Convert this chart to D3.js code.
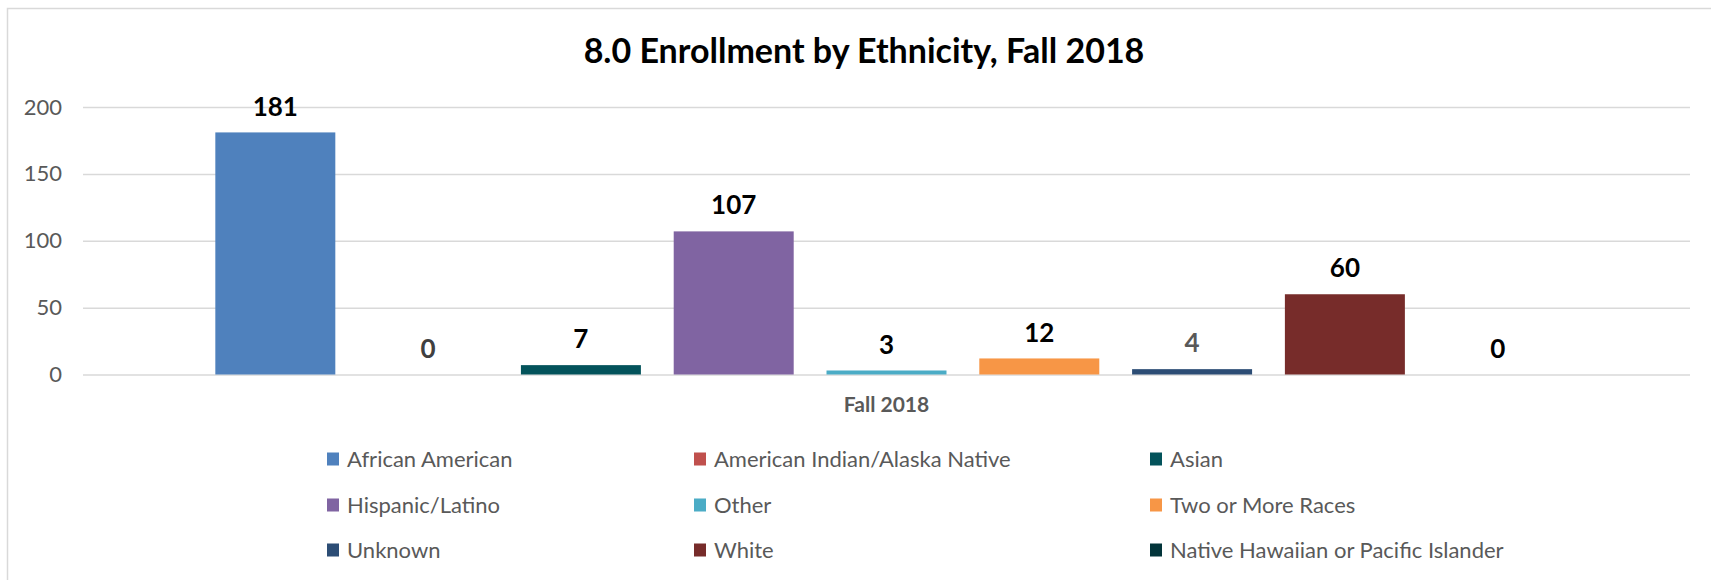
<!DOCTYPE html>
<html>
<head>
<meta charset="utf-8">
<script src="https://cdn.jsdelivr.net/npm/d3@7"></script>
<style>
  body { margin: 0; background: #fff; }
  text { font-family: Lato, "Noto Sans", sans-serif; }
</style>
</head>
<body>
<svg id="canvas"></svg>
<script>
"use strict"

const title = "8.0 Enrollment by Ethnicity, Fall 2018"
const category = "Fall 2018"
const series = [
  "African American", "American Indian/Alaska Native", "Asian",
  "Hispanic/Latino", "Other", "Two or More Races",
  "Unknown", "White", "Native Hawaiian or Pacific Islander"
]
const values = [181, 0, 7, 107, 3, 12, 4, 60, 0]
const colors = [
  "#4f81bd", "#c0504d", "#03535b",
  "#8064a2", "#4bacc6", "#f79646",
  "#2c4d75", "#772c2a", "#02343a"
]
const labelColors = ["#000", "#404040", "#000", "#000", "#000", "#000", "#595959", "#000", "#000"]
const yTicks = [0, 50, 100, 150, 200]

const width = 1711
const height = 580
const plot = { left: 83, right: 1690, top: 107, bottom: 374.5 }
const legendCols = [327, 694, 1150]
const legendRows = [459, 505, 550]

const svg = d3.select("#canvas")
  .attr("width", width)
  .attr("height", height)

// chart frame, cut off on right/bottom like the screenshot
svg.append("rect")
  .attr("x", 7.5).attr("y", 8.5)
  .attr("width", width + 20).attr("height", height + 20)
  .attr("fill", "none")
  .attr("stroke", "#d9d9d9")
  .attr("stroke-width", 1.5)

const x = d3.scaleBand()
  .domain(series)
  .range([plot.left, plot.right])
  .paddingInner(0.2147)
  .paddingOuter(0.866)

const y = d3.scaleLinear()
  .domain([0, 200])
  .range([plot.bottom, plot.top])

const yAxis = svg.append("g")
  .attr("transform", "translate(" + plot.left + ",0)")
  .call(d3.axisLeft(y).tickValues(yTicks).tickSize(-(plot.right - plot.left)).tickPadding(21))

yAxis.select(".domain").remove()
yAxis.selectAll(".tick line")
  .attr("stroke", "#d9d9d9")
  .attr("stroke-width", 1.5)
yAxis.selectAll(".tick text")
  .attr("fill", "#595959")
  .style("font-size", "22px")
  .style("font-family", "Lato, sans-serif")

svg.append("g")
  .selectAll("rect")
  .data(values)
  .enter().append("rect")
    .attr("x", (d, i) => x(series[i]))
    .attr("y", d => y(d))
    .attr("width", x.bandwidth())
    .attr("height", d => y(0) - y(d))
    .attr("fill", (d, i) => colors[i])

svg.append("g")
  .selectAll("text")
  .data(values)
  .enter().append("text")
    .attr("x", (d, i) => x(series[i]) + x.bandwidth() / 2)
    .attr("y", d => y(d) - 26)
    .attr("dy", "0.35em")
    .attr("text-anchor", "middle")
    .attr("font-weight", "bold")
    .attr("font-size", 26)
    .attr("fill", (d, i) => labelColors[i])
    .text(d => d)

svg.append("text")
  .attr("x", (plot.left + plot.right) / 2)
  .attr("y", 405)
  .attr("dy", "0.35em")
  .attr("text-anchor", "middle")
  .attr("font-weight", "bold")
  .attr("font-size", 21)
  .attr("fill", "#595959")
  .text(category)

svg.append("text")
  .attr("x", 864)
  .attr("y", 51)
  .attr("dy", "0.35em")
  .attr("text-anchor", "middle")
  .attr("font-weight", "bold")
  .attr("font-size", 34)
  .attr("fill", "#000")
  .text(title)

const legend = svg.append("g")
  .selectAll("g")
  .data(series)
  .enter().append("g")
    .attr("transform", (d, i) => "translate(" + legendCols[i % 3] + "," + legendRows[Math.floor(i / 3)] + ")")

legend.append("rect")
  .attr("x", 0).attr("y", -6.5)
  .attr("width", 12).attr("height", 13)
  .attr("fill", (d, i) => colors[i])

legend.append("text")
  .attr("x", 20)
  .attr("dy", "0.35em")
  .attr("font-size", 22)
  .attr("fill", "#595959")
  .text(d => d)
</script>
</body>
</html>
